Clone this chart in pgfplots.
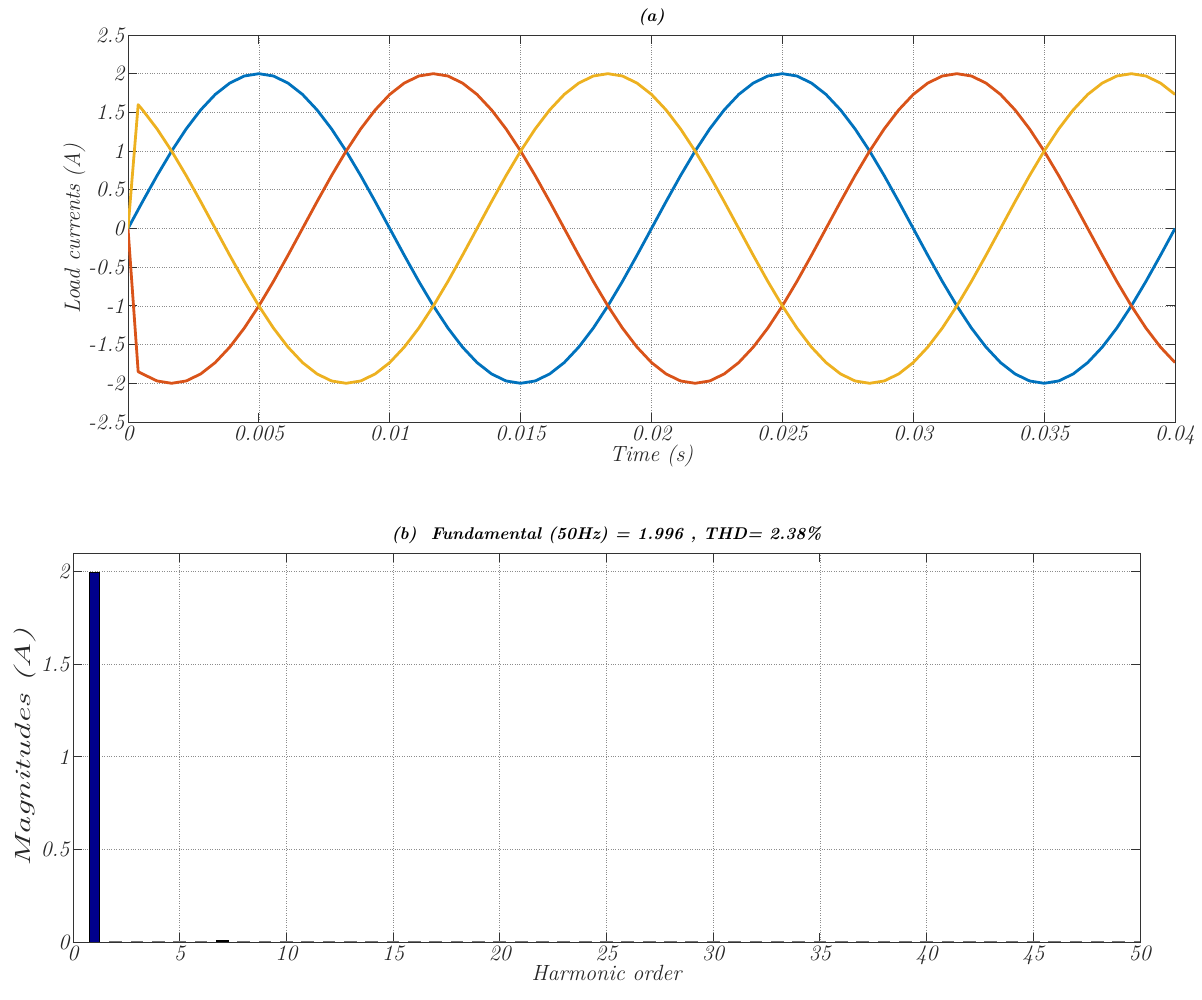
\documentclass[border=0pt]{standalone}
\usepackage{pgfplots}
\pgfplotsset{compat=1.18}
\definecolor{mblue}{rgb}{0,0.447,0.741}
\definecolor{mred}{rgb}{0.850,0.325,0.098}
\definecolor{myel}{rgb}{0.929,0.694,0.125}
\definecolor{navybar}{rgb}{0,0,0.55}
\newcommand{\tf}{\fontsize{22}{26}\selectfont\itshape}
\begin{document}
\begin{tikzpicture}
\useasboundingbox (0,0) rectangle (1202pt,1000pt);
\pgfplotsset{mystyle/.style={scale only axis,
  axis line style={black!80, line width=0.8pt},
  tick style={black!80, line width=0.8pt},
  major tick length=9pt, tick align=inside,
  grid=major, grid style={dotted, black!45, line width=0.6pt},
  tick label style={font=\tf, text=black!85},
  label style={font=\tf, text=black!85},
  title style={font=\fontsize{17}{20}\selectfont\bfseries\itshape},
  /pgf/number format/assume math mode=true}}

\begin{axis}[mystyle, at={(128pt,578pt)}, anchor=south west,
  width=1047pt, height=387pt,
  xmin=0, xmax=720, ymin=-2.5, ymax=2.5,
  xtick={0,90,180,270,360,450,540,630,720},
  xticklabels={0,0.005,0.01,0.015,0.02,0.025,0.03,0.035,0.04},
  ytick={-2.5,-2,-1.5,-1,-0.5,0,0.5,1,1.5,2,2.5},
  yticklabels={-2.5,-2,-1.5,-1,-0.5,0,0.5,1,1.5,2,2.5},
  xlabel={Time (s)}, ylabel={Load currents (A)}, title={(a)},
  xlabel style={yshift=6pt}, ylabel style={yshift=-4pt}]
% phase a (blue)
\addplot[mblue, line width=2.8pt, line join=round] coordinates {
(0,0)(10,0.347)(20,0.684)(30,1)(40,1.286)(50,1.532)(60,1.732)(70,1.879)(80,1.970)(90,2)
(100,1.970)(110,1.879)(120,1.732)(130,1.532)(140,1.286)(150,1)(160,0.684)(170,0.347)(180,0)
(190,-0.347)(200,-0.684)(210,-1)(220,-1.286)(230,-1.532)(240,-1.732)(250,-1.879)(260,-1.970)(270,-2)
(280,-1.970)(290,-1.879)(300,-1.732)(310,-1.532)(320,-1.286)(330,-1)(340,-0.684)(350,-0.347)
(360,0)(370,0.347)(380,0.684)(390,1)(400,1.286)(410,1.532)(420,1.732)(430,1.879)(440,1.970)(450,2)
(460,1.970)(470,1.879)(480,1.732)(490,1.532)(500,1.286)(510,1)(520,0.684)(530,0.347)(540,0)
(550,-0.347)(560,-0.684)(570,-1)(580,-1.286)(590,-1.532)(600,-1.732)(610,-1.879)(620,-1.970)(630,-2)
(640,-1.970)(650,-1.879)(660,-1.732)(670,-1.532)(680,-1.286)(690,-1)(700,-0.684)(710,-0.347)(720,0)
};
% phase b (red)
\addplot[mred, line width=2.8pt, line join=round] coordinates {
(0,0)(7,-1.85)(10,-1.879)(20,-1.970)(30,-2)(40,-1.970)(50,-1.879)(60,-1.732)(70,-1.532)(80,-1.286)(90,-1)
(100,-0.684)(110,-0.347)(120,0)(130,0.347)(140,0.684)(150,1)(160,1.286)(170,1.532)(180,1.732)
(190,1.879)(200,1.970)(210,2)(220,1.970)(230,1.879)(240,1.732)(250,1.532)(260,1.286)(270,1)
(280,0.684)(290,0.347)(300,0)(310,-0.347)(320,-0.684)(330,-1)(340,-1.286)(350,-1.532)
(360,-1.732)(370,-1.879)(380,-1.970)(390,-2)(400,-1.970)(410,-1.879)(420,-1.732)(430,-1.532)(440,-1.286)(450,-1)
(460,-0.684)(470,-0.347)(480,0)(490,0.347)(500,0.684)(510,1)(520,1.286)(530,1.532)(540,1.732)
(550,1.879)(560,1.970)(570,2)(580,1.970)(590,1.879)(600,1.732)(610,1.532)(620,1.286)(630,1)
(640,0.684)(650,0.347)(660,0)(670,-0.347)(680,-0.684)(690,-1)(700,-1.286)(710,-1.532)(720,-1.732)
};
% phase c (yellow)
\addplot[myel, line width=2.8pt, line join=round] coordinates {
(0,0)(7,1.6)(10,1.532)(20,1.286)(30,1)(40,0.684)(50,0.347)(60,0)(70,-0.347)(80,-0.684)(90,-1)
(100,-1.286)(110,-1.532)(120,-1.732)(130,-1.879)(140,-1.970)(150,-2)(160,-1.970)(170,-1.879)(180,-1.732)
(190,-1.532)(200,-1.286)(210,-1)(220,-0.684)(230,-0.347)(240,0)(250,0.347)(260,0.684)(270,1)
(280,1.286)(290,1.532)(300,1.732)(310,1.879)(320,1.970)(330,2)(340,1.970)(350,1.879)
(360,1.732)(370,1.532)(380,1.286)(390,1)(400,0.684)(410,0.347)(420,0)(430,-0.347)(440,-0.684)(450,-1)
(460,-1.286)(470,-1.532)(480,-1.732)(490,-1.879)(500,-1.970)(510,-2)(520,-1.970)(530,-1.879)(540,-1.732)
(550,-1.532)(560,-1.286)(570,-1)(580,-0.684)(590,-0.347)(600,0)(610,0.347)(620,0.684)(630,1)
(640,1.286)(650,1.532)(660,1.732)(670,1.879)(680,1.970)(690,2)(700,1.970)(710,1.879)(720,1.732)
};
\end{axis}

\begin{axis}[mystyle, at={(73pt,58pt)}, anchor=south west,
  width=1067pt, height=389pt,
  xmin=0, xmax=50, ymin=0, ymax=2.1,
  xtick={0,5,...,50},
  ytick={0,0.5,1,1.5,2},
  yticklabels={0,0.5,1,1.5,2},
  xlabel={Harmonic order},
  ylabel={\scalebox{1.6}[1]{Magnitudes (A)}},
  xlabel style={yshift=6pt}, ylabel style={yshift=-2pt},
  title={(b)\ \ Fundamental (50Hz) = 1.996 , THD= 2.38\%}]
\addplot[ybar, bar width=0.5, bar shift=0pt, fill=navybar, draw=black, line width=0.6pt] coordinates {(1,1.996)};
\addplot[ybar, bar width=0.55, bar shift=0pt, fill=black!55, draw=black!55, line width=1pt] coordinates {
(2,0.004)(3,0.004)(4,0.004)(5,0.004)(6,0.004)(8,0.004)(9,0.004)(10,0.004)
(11,0.004)(12,0.004)(13,0.004)(14,0.004)(15,0.004)(16,0.004)(17,0.004)(18,0.004)(19,0.004)(20,0.004)
(21,0.004)(22,0.004)(23,0.004)(24,0.004)(25,0.004)(26,0.004)(27,0.004)(28,0.004)(29,0.004)(30,0.004)
(31,0.004)(32,0.004)(33,0.004)(34,0.004)(35,0.004)(36,0.004)(37,0.004)(38,0.004)(39,0.004)(40,0.004)
(41,0.004)(42,0.004)(43,0.004)(44,0.004)(45,0.004)(46,0.004)(47,0.004)(48,0.004)(49,0.004)(50,0.004)
};
\addplot[ybar, bar width=0.55, bar shift=0pt, fill=black, draw=black, line width=1pt] coordinates {(7,0.008)};
\end{axis}
\end{tikzpicture}
\end{document}
